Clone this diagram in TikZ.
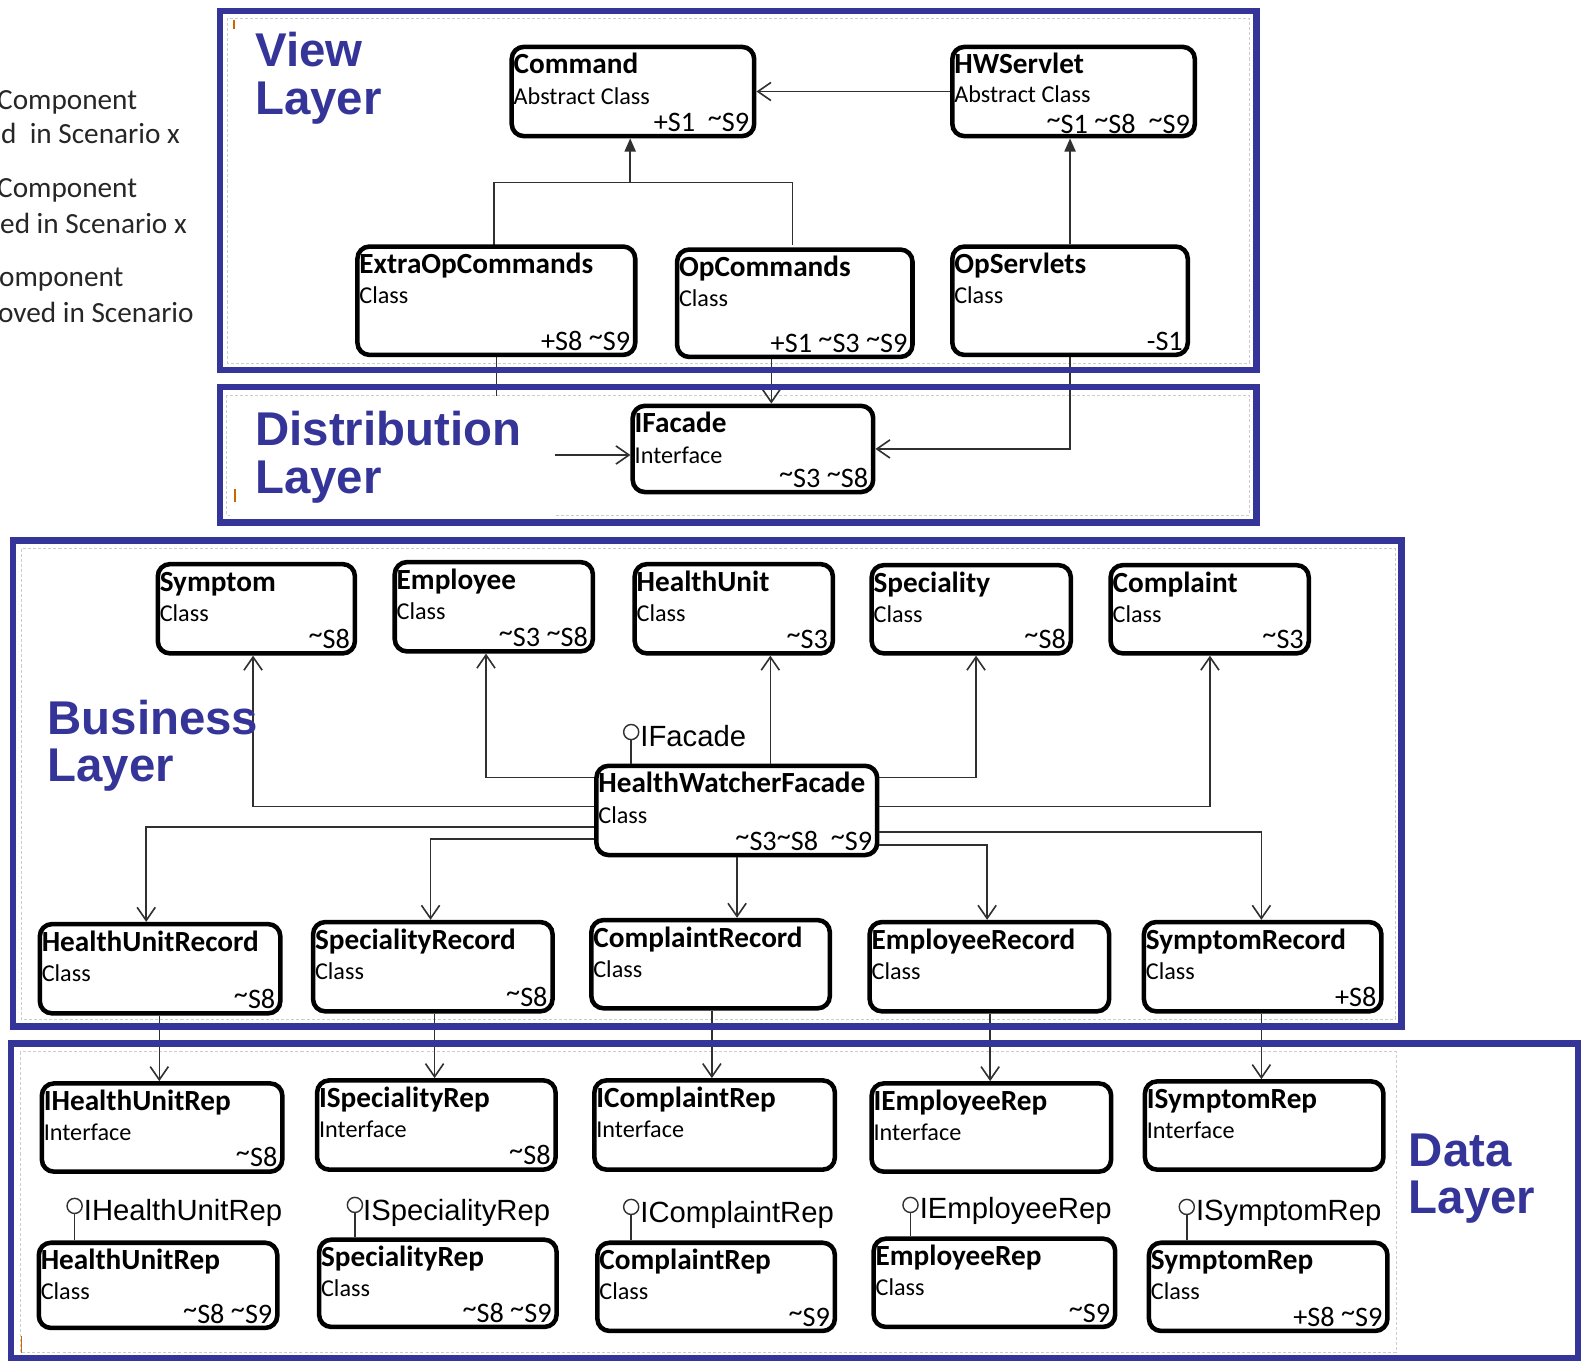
\documentclass[tikz,border=0pt]{standalone}
\usepackage{fontspec}
\setmainfont{Carlito}
\newfontfamily\headfont{Liberation Sans}
\usetikzlibrary{arrows.meta,calc}

\definecolor{layerblue}{HTML}{353599}
\definecolor{wire}{HTML}{303030}
% raised tilde as used in the scenario tags
\newcommand\tld{\raisebox{0.18em}{\textasciitilde}}

\tikzset{
  uml/.style={draw=black, line width=4.5pt, rounded corners=12pt, fill=white, inner sep=0pt},
  nametxt/.style={font=\fontsize{29}{30}\selectfont\bfseries, inner sep=0pt},
  kindtxt/.style={font=\fontsize{24}{25}\selectfont, inner sep=0pt, text depth=0pt},
  tagtxt/.style={font=\fontsize{28}{30}\selectfont, inner sep=0pt},
  conn/.style={draw=wire, line width=1.6pt},
  assoc/.style={conn, -{Straight Barb[length=13pt,width=18pt,line width=1.6pt]}},
  gen/.style={conn, -{Triangle[length=13pt,width=11pt]}},
  layer/.style={draw=layerblue, line width=6.5pt},
  innerline/.style={draw=gray!40, line width=0.8pt, dash pattern=on 3pt off 2pt},
  layertitle/.style={font=\headfont\bfseries\fontsize{47}{47}\selectfont, text=layerblue, align=left, inner sep=0pt},
  lolli/.style={circle, draw=wire, line width=1.4pt, minimum size=15pt, inner sep=0pt, fill=white},
  lollitxt/.style={font=\headfont\fontsize{29}{30}\selectfont, inner sep=0pt},
  legendtxt/.style={font=\fontsize{29}{30}\selectfont, inner sep=0pt, text=black!85},
  cursor/.style={draw=orange!80!black, line width=1.2pt},
}

% UML classifier box given by its outer edges: id, x1, y1, x2, y2, name, kind, scenario tag
\newcommand\umlclass[8]{%
  \node[uml, anchor=north west, minimum width={#4-#2-4.5}, minimum height={#5-#3-4.5}] (#1) at (#2+2.25,#3+2.25) {};
  \node[nametxt, anchor=base west] (#1-name) at ([shift={(4,29)}]#1.north west) {#6};
  \node[kindtxt, anchor=base west] (#1-kind) at ([shift={(4,59)}]#1.north west) {#7};
  \node[tagtxt, anchor=base east] (#1-tag) at ([shift={(-7,-7)}]#1.south east) {#8};
}

\begin{document}
\begin{tikzpicture}[x=1pt, y=-1pt]
\useasboundingbox (0,0) rectangle (1568,1350);
\clip (0,0) rectangle (1568,1350);
\fill[white] (0,0) rectangle (1568,1350);

% legend text at the left margin
\node[legendtxt, anchor=base west] (lg1) at (-3,109) {Component};
\node[legendtxt, anchor=base west] (lg2) at (1,142) {d\ \ in Scenario x};
\node[legendtxt, anchor=base west] (lg3) at (-3,196) {Component};
\node[legendtxt, anchor=base west] (lg4) at (0,232) {ed in Scenario x};
\node[legendtxt, anchor=base west] (lg5) at (-1,284) {omponent};
\node[legendtxt, anchor=base west] (lg6) at (-2,320) {oved in Scenario};

% light inner borders of the layer panels
\draw[innerline] (226,18) rectangle (1239,360);
\draw[innerline] (225,392) rectangle (1239,511);
\draw[innerline] (21,544) rectangle (1384,1011);
\draw[innerline] (20,1043) rectangle (1385,1341);

% junction of the generalisation tree under Command
\coordinate (gj) at (625,181);
\draw[conn] (490,0 |- 0,352) |- (gj) -| (786,0 |- 0,243);

% ---------- boxes ----------
% view layer
\umlclass{command}{503}{42}{748}{135}{Command}{Abstract Class}{+S1\ \ \tld S9}
\umlclass{hwservlet}{940}{42}{1185}{135}{HWServlet}{}{}
\node[kindtxt, anchor=base west] (hwservlet-k) at ([shift={(4,57)}]hwservlet.north west) {Abstract Class};
\node[tagtxt, anchor=base east] (hwservlet-t) at ([shift={(-7,-5)}]hwservlet.south east) {\tld S1 \tld S8\ \ \tld S9};
\umlclass{extraop}{350}{240}{630}{352}{ExtraOpCommands}{Class}{+S8 \tld S9}
\umlclass{opcmd}{667}{243}{905}{354}{OpCommands}{Class}{+S1 \tld S3 \tld S9}
\umlclass{opservlets}{940}{240}{1178}{352}{OpServlets}{Class}{-S1\hspace{6pt}}
% distribution layer
\umlclass{ifacade}{623}{398}{866}{488}{IFacade}{Interface}{\tld S3 \tld S8}
% business layer
\umlclass{symptom}{152}{555}{352}{648}{Symptom}{Class}{\tld S8}
\umlclass{employee}{387}{553}{588}{646}{Employee}{Class}{\tld S3 \tld S8}
\umlclass{healthunit}{625}{555}{826}{648}{HealthUnit}{Class}{\tld S3}
\umlclass{speciality}{860}{556}{1062}{648}{Speciality}{Class}{\tld S8}
\umlclass{complaint}{1097}{556}{1298}{648}{Complaint}{Class}{\tld S3}
\umlclass{hwf}{587}{755}{870}{848}{HealthWatcherFacade}{Class}{\tld S3\tld S8\ \ \tld S9}
\umlclass{hurec}{35}{912}{278}{1005}{HealthUnitRecord}{Class}{\tld S8}
\umlclass{sprec}{306}{910}{548}{1003}{SpecialityRecord}{Class}{\tld S8}
\umlclass{corec}{582}{908}{823}{1000}{ComplaintRecord}{Class}{}
\umlclass{emrec}{858}{910}{1100}{1003}{EmployeeRecord}{Class}{}
\umlclass{symrec}{1130}{910}{1370}{1003}{SymptomRecord}{Class}{+S8}
% data layer
\umlclass{ihurep}{37}{1070}{280}{1162}{IHealthUnitRep}{Interface}{\tld S8}
\umlclass{isprep}{310}{1067}{551}{1160}{ISpecialityRep}{Interface}{\tld S8}
\umlclass{icorep}{585}{1067}{828}{1160}{IComplaintRep}{Interface}{}
\umlclass{iemrep}{860}{1070}{1102}{1162}{IEmployeeRep}{Interface}{}
\umlclass{isymrep}{1131}{1068}{1372}{1160}{ISymptomRep}{Interface}{}
\umlclass{hurep}{34}{1228}{275}{1317}{HealthUnitRep}{Class}{\tld S8 \tld S9}
\umlclass{sprep}{312}{1225}{552}{1316}{SpecialityRep}{Class}{\tld S8 \tld S9}
\umlclass{corep}{588}{1228}{828}{1320}{ComplaintRep}{Class}{\tld S9}
\umlclass{emrep}{862}{1224}{1106}{1316}{EmployeeRep}{Class}{\tld S9}
\umlclass{symrep}{1135}{1228}{1376}{1320}{SymptomRep}{Class}{+S8 \tld S9}

% ---------- connectors ----------
% view layer: association and generalisations
\draw[assoc] (hwservlet.west) -- (command.east);
\draw[gen] (gj) -- (gj |- command.south);
\draw[gen] (opservlets.north) -- (opservlets.north |- hwservlet.south);
% into the distribution layer
\draw[assoc] (765,0 |- opcmd.south) -- (765,0 |- ifacade.north);
\draw[assoc] (extraop.south) |- ([yshift=-6pt]ifacade.west);
\draw[assoc] (opservlets.south) |- (ifacade.east);
% facade to business classes
\draw[assoc] (hwf.west |- 0,800) -| (251,0 |- symptom.south);
\draw[assoc] (hwf.west |- 0,771) -| (482,0 |- employee.south);
\draw[assoc] (764,0 |- hwf.north) -- (764,0 |- healthunit.south);
\draw[assoc] (hwf.east |- 0,771) -| (968,0 |- speciality.south);
\draw[assoc] (hwf.east |- 0,800) -| (1200,0 |- complaint.south);
% facade to records
\draw[assoc] (hwf.west |- 0,820) -| (145,0 |- hurec.north);
\draw[assoc] (hwf.west |- 0,832) -| (427,0 |- sprec.north);
\draw[assoc] (731,0 |- hwf.south) -- (731,0 |- corec.north);
\draw[assoc] (hwf.east |- 0,838) -| (979,0 |- emrec.north);
\draw[assoc] (hwf.east |- 0,825) -| (1251,0 |- symrec.north);
% records to repository interfaces
\draw[assoc] (158,0 |- hurec.south) -- (158,0 |- ihurep.north);
\draw[assoc] (431,0 |- sprec.south) -- (431,0 |- isprep.north);
\draw[assoc] (706,0 |- corec.south) -- (706,0 |- icorep.north);
\draw[assoc] (982,0 |- emrec.south) -- (982,0 |- iemrep.north);
\draw[assoc] (1251,0 |- symrec.south) -- (1251,0 |- isymrep.north);

% ---------- provided interfaces (lollipops) ----------
\node[lolli] (lpf) at (626,726) {};
\draw[conn] (lpf.south) -- (lpf.south |- hwf.north);
\node[lollitxt, anchor=base west] (lpf-t) at (635,740) {IFacade};

\node[lolli] (lph) at (74,1196) {};
\draw[conn] (lph.south) -- (lph.south |- hurep.north);
\node[lollitxt, anchor=base west] (lph-t) at (83,1210) {IHealthUnitRep};

\node[lolli] (lps) at (352,1195) {};
\draw[conn] (lps.south) -- (lps.south |- sprep.north);
\node[lollitxt, anchor=base west] (lps-t) at (360,1210) {ISpecialityRep};

\node[lolli] (lpc) at (626,1197) {};
\draw[conn] (lpc.south) -- (lpc.south |- corep.north);
\node[lollitxt, anchor=base west] (lpc-t) at (635,1212) {IComplaintRep};

\node[lolli] (lpe) at (903,1195) {};
\draw[conn] (lpe.south) -- (lpe.south |- emrep.north);
\node[lollitxt, anchor=base west] (lpe-t) at (912,1208) {IEmployeeRep};

\node[lolli] (lpy) at (1177,1197) {};
\draw[conn] (lpy.south) -- (lpy.south |- symrep.north);
\node[lollitxt, anchor=base west] (lpy-t) at (1186,1210) {ISymptomRep};

% ---------- layer titles ----------
\fill[white] (228,393) rectangle (550,512);
\fill[white] (1386,1108) rectangle (1535,1228);
\node[layertitle, anchor=north west] (t-view) at (253,32) {View\\Layer};
\node[layertitle, anchor=north west] (t-dist) at (253,408) {Distribution\\Layer};
\node[layertitle, anchor=north west] (t-bus) at (47,694) {Business\\Layer};
\node[layertitle, anchor=north west] (t-data) at (1397,1124) {Data\\Layer};

% text cursors left in the panels
\draw[cursor] (232,20) -- (232,29);
\draw[cursor] (233,485) -- (233,498);
\draw[cursor] (21,1325) -- (21,1342);

% ---------- layer frames ----------
\draw[layer] (218,11) rectangle (1246,367);
\draw[layer] (218,384) rectangle (1246,518);
\draw[layer] (13,536) rectangle (1390,1018);
\draw[layer] (11,1035) rectangle (1565,1347);
\end{tikzpicture}
\end{document}
